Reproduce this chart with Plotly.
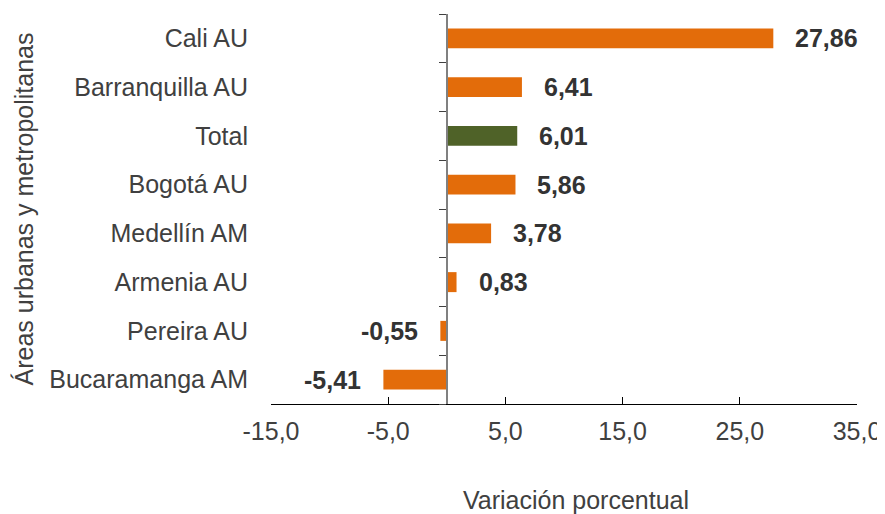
import plotly.graph_objs as go

# categories listed bottom to top
areas = ["Bucaramanga AM", "Pereira AU", "Armenia AU", "Medellín AM",
         "Bogotá AU", "Total", "Barranquilla AU", "Cali AU"]
variacion = [-5.41, -0.55, 0.83, 3.78, 5.86, 6.01, 6.41, 27.86]
etiquetas = ["-5,41", "-0,55", "0,83", "3,78", "5,86", "6,01", "6,41", "27,86"]
x_ticks = [-15, -5, 5, 15, 25, 35]
x_ticktext = ["-15,0", "-5,0", "5,0", "15,0", "25,0", "35,0"]

naranja = "#E36C0A"
verde = "#4F6228"
colores = [verde if a == "Total" else naranja for a in areas]

fig = go.Figure()
fig.add_trace(go.Bar(y=areas, x=variacion, orientation="h",
                     marker=dict(color=colores, line=dict(width=0)),
                     width=0.41, showlegend=False, hoverinfo="x+y"))
# invisible trace so the zero-axis (y2) gets drawn
fig.add_trace(go.Scatter(x=[None], y=[None], yaxis="y2", showlegend=False,
                         hoverinfo="skip"))

for a, v, t in zip(areas, variacion, etiquetas):
    fig.add_annotation(x=v, y=a, text="<b>%s</b>" % t, showarrow=False,
                       xanchor="left" if v >= 0 else "right",
                       xshift=20 if v >= 0 else -20,
                       font=dict(size=25, color="#333333"))

font = dict(family="Liberation Sans", size=25, color="#404040")

# x title sits a little right of centre in the original
fig.add_annotation(text="Variación porcentual", xref="paper", yref="paper",
                   x=0.52, y=-0.245, xanchor="center", yanchor="middle",
                   showarrow=False, font=font)

# page body adds 8px margin, so the figure is 8px smaller than the window
fig.update_layout(
    width=877, height=506, autosize=False,
    margin=dict(l=263, r=28, t=6, b=110),
    paper_bgcolor="white", plot_bgcolor="white",
    font=font,
    bargap=0.59,
    xaxis=dict(range=[-15, 35], tickvals=x_ticks, ticktext=x_ticktext,
               showgrid=False, zeroline=False, showline=True,
               linecolor="black", linewidth=1.3, ticks="inside", ticklen=7,
               tickcolor="black", tickfont=font, ticklabelstandoff=5,
               automargin=False),
    yaxis=dict(categoryorder="array", categoryarray=areas, range=[-0.5, 7.5],
               showgrid=False, zeroline=False, showline=False, ticks="",
               ticklabelstandoff=22, tickfont=font, automargin=False,
               title=dict(text="Áreas urbanas y metropolitanas", font=font,
                          standoff=8)),
    yaxis2=dict(overlaying="y", anchor="free", position=0.3, side="left",
                range=[-0.5, 7.5], tickvals=[i - 0.5 for i in range(9)],
                showticklabels=False, showgrid=False, zeroline=False,
                showline=True, linecolor="#808080", linewidth=1.5,
                ticks="outside", ticklen=7, tickcolor="#404040",
                automargin=False),
)

fig.write_html("out.html")
